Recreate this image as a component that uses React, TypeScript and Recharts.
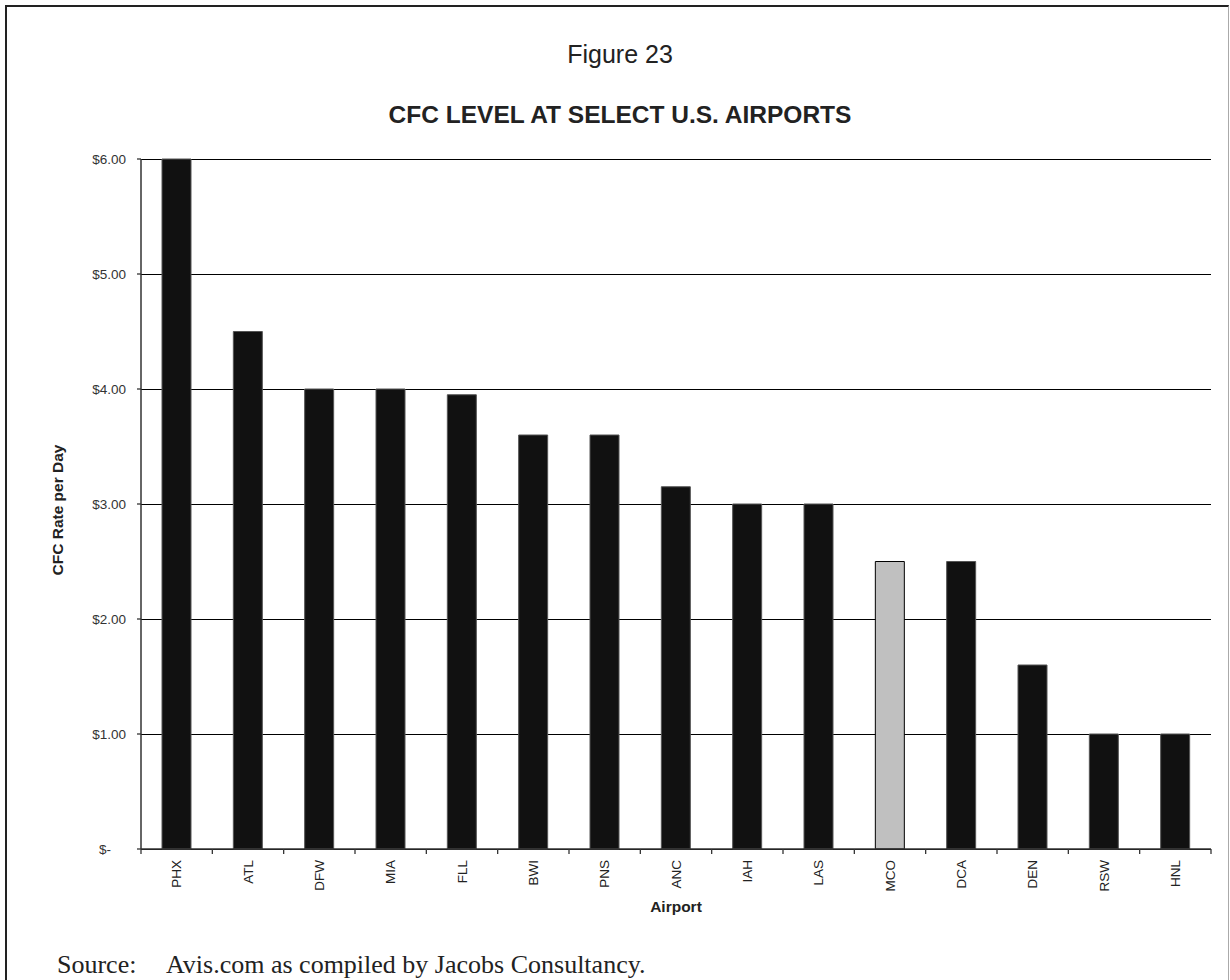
import React from "react";
import { BarChart, Bar, XAxis, YAxis, CartesianGrid, Cell } from "recharts";

const airports = ["PHX", "ATL", "DFW", "MIA", "FLL", "BWI", "PNS", "ANC", "IAH", "LAS", "MCO", "DCA", "DEN", "RSW", "HNL"];
const rates = [6.0, 4.5, 4.0, 4.0, 3.95, 3.6, 3.6, 3.15, 3.0, 3.0, 2.5, 2.5, 1.6, 1.0, 1.0];
const highlighted = ["MCO"];
const rateTicks = [0, 1, 2, 3, 4, 5, 6];

const chartData = airports.map((name, i) => ({ name, rate: rates[i] }));

const sans = "Arial, 'Liberation Sans', Helvetica, sans-serif";

function AirportTick(props: any) {
  const { x, y, payload, index } = props;
  const half = payload.offset ?? 0;
  return (
    <g>
      {index === 0 && <line x1={x - half} x2={x - half} y1={y} y2={y + 5} stroke="#333" strokeWidth={1.3} />}
      <line x1={x + half} x2={x + half} y1={y} y2={y + 5} stroke="#333" strokeWidth={1.3} />
      <text
        x={x}
        y={y + 11}
        dy="0.35em"
        transform={`rotate(-90, ${x}, ${y + 11})`}
        textAnchor="end"
        fill="#222"
        fontSize={13.5}
        fontFamily={sans}
      >
        {payload.value}
      </text>
    </g>
  );
}

function RateTick(props: any) {
  const { x, y, payload } = props;
  const label = payload.value === 0 ? "$-" : `$${payload.value.toFixed(2)}`;
  return (
    <text
      x={payload.value === 0 ? x - 15 : x}
      y={y}
      dy="0.35em"
      textAnchor="end"
      fill="#333"
      fontSize={13.5}
      fontFamily={sans}
    >
      {label}
    </text>
  );
}

export default function App() {
  return (
    <div style={{ position: "relative", width: 1230, height: 980, overflow: "hidden", background: "#fff" }}>
      <style>{"body{margin:0}"}</style>
      <div
        style={{
          position: "absolute",
          left: 5,
          top: 5,
          width: 1221,
          height: 1000,
          borderLeft: "2px solid #222",
          borderTop: "2px solid #222",
          borderRight: "1px solid #aaa",
        }}
      />
      <div
        style={{
          position: "absolute",
          left: 0,
          width: 1240,
          top: 40,
          textAlign: "center",
          fontFamily: sans,
          fontSize: 25,
          color: "#222",
        }}
      >
        Figure 23
      </div>
      <div
        style={{
          position: "absolute",
          left: 0,
          width: 1240,
          top: 101,
          textAlign: "center",
          fontFamily: sans,
          fontSize: 24.5,
          fontWeight: "bold",
          color: "#222",
        }}
      >
        CFC LEVEL AT SELECT U.S. AIRPORTS
      </div>
      <div style={{ position: "absolute", left: 0, top: 0 }}>
        <BarChart width={1230} height={980} data={chartData} margin={{ top: 159, right: 19, left: 81, bottom: 91 }}>
          <CartesianGrid horizontal vertical={false} stroke="#000" strokeWidth={1} shapeRendering="crispEdges" />
          <XAxis
            dataKey="name"
            height={40}
            tickSize={0}
            tickMargin={0}
            tickLine={false}
            axisLine={{ stroke: "#333", strokeWidth: 1.5 }}
            interval={0}
            tick={<AirportTick />}
          />
          <YAxis
            width={60}
            domain={[0, 6]}
            ticks={rateTicks}
            tickSize={4}
            tickMargin={11}
            tickLine={{ stroke: "#333", strokeWidth: 1.3 }}
            axisLine={{ stroke: "#333", strokeWidth: 1.5 }}
            tick={<RateTick />}
          />
          <Bar dataKey="rate" barSize={29} isAnimationActive={false} stroke="#555" strokeWidth={1}>
            {chartData.map((d) => (
              <Cell
                key={d.name}
                fill={highlighted.includes(d.name) ? "#c0c0c0" : "#111"}
                stroke={highlighted.includes(d.name) ? "#000" : "#555"}
              />
            ))}
          </Bar>
        </BarChart>
      </div>
      <div
        style={{
          position: "absolute",
          left: 0,
          width: 1352,
          top: 898,
          textAlign: "center",
          fontFamily: sans,
          fontSize: 15.5,
          fontWeight: "bold",
          color: "#222",
        }}
      >
        Airport
      </div>
      <div
        style={{
          position: "absolute",
          left: 58,
          top: 510,
          transform: "translate(-50%, -50%) rotate(-90deg)",
          whiteSpace: "nowrap",
          fontFamily: sans,
          fontSize: 15.5,
          fontWeight: "bold",
          color: "#222",
        }}
      >
        CFC Rate per Day
      </div>
      <div
        style={{
          position: "absolute",
          left: 57,
          top: 950,
          whiteSpace: "nowrap",
          fontFamily: "'Liberation Serif', 'DejaVu Serif', serif",
          fontSize: 26,
          color: "#222",
        }}
      >
        Source:
      </div>
      <div
        style={{
          position: "absolute",
          left: 166,
          top: 950,
          whiteSpace: "nowrap",
          fontFamily: "'Liberation Serif', 'DejaVu Serif', serif",
          fontSize: 26,
          color: "#222",
        }}
      >
        Avis.com as compiled by Jacobs Consultancy.
      </div>
    </div>
  );
}
